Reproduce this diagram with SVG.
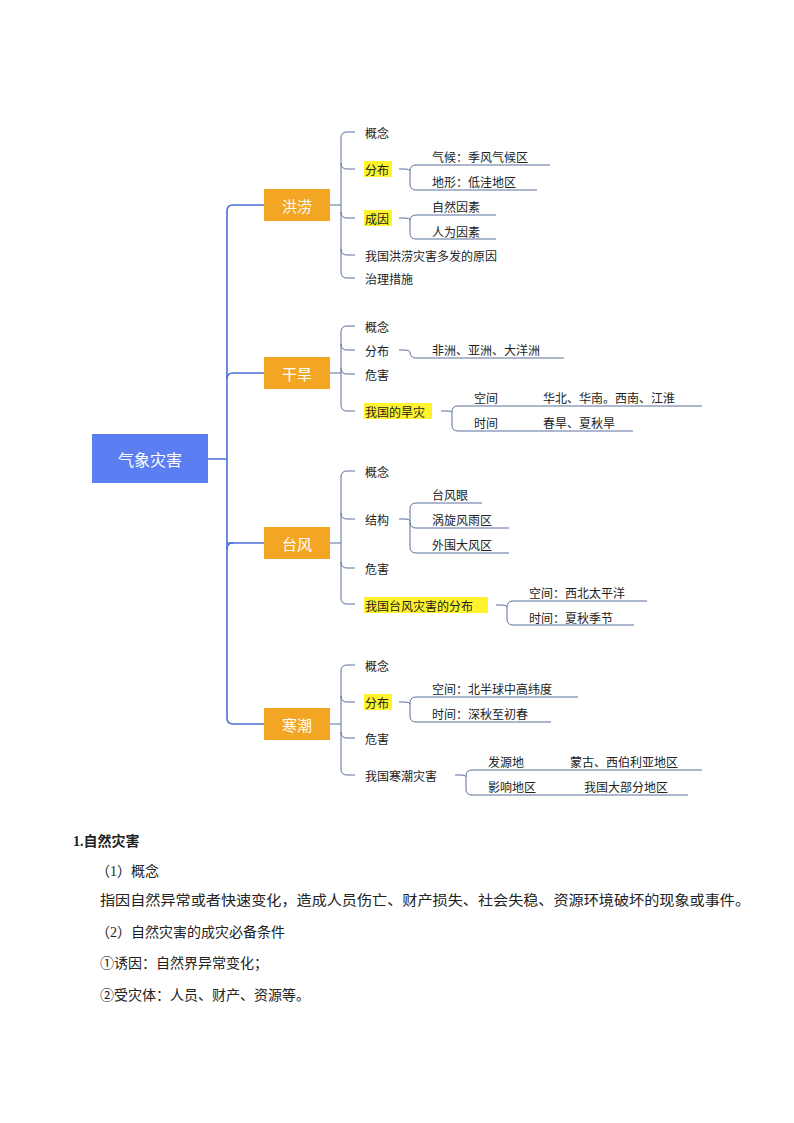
<svg xmlns="http://www.w3.org/2000/svg" width="794" height="1123" viewBox="0 0 794 1123">
<style>
text{font-family:"Noto Sans CJK SC","Noto Sans",sans-serif;fill:#222}
.t{font-size:12px;dominant-baseline:central}
.b{font-size:15px;fill:#fff;text-anchor:middle;dominant-baseline:central}
.c{fill:none;stroke:#4A6FD8;stroke-width:1.6}
.s{fill:none;stroke:#5A6E9A;stroke-width:1}
.hl{fill:#FFF32E}
.box{fill:#F2A623}
.p{font-size:14px;font-family:"Liberation Serif","Noto Sans CJK SC",serif}
</style>
<rect width="794" height="1123" fill="#fff"/>
<g id="connectors">
<path class="c" d="M208,459 H227 M264,205 H233 Q227,205 227,211 V718 Q227,724 233,724 H264 M227,373 Q227,379 227,379 M233,373 H264 M227,543 H264"/>
<path class="c" d="M233,373 Q227,373 227,379 M233,543 Q227,543 227,549"/>
<path class="s" d="M330,205 H341 M355,132 H347 Q341,132 341,138 V272 Q341,278 347,278 H355 M341,163 Q341,169 347,169 H355 M341,212 Q341,218 347,218 H355 M341,249 Q341,255 347,255 H355"/>
<path class="s" d="M399,169 H405 Q410,169 410,171 M550,165 H416 Q410,165 410,171 V184 Q410,190 416,190 H537"/>
<path class="s" d="M399,218 H405 Q410,218 410,220 M496,215 H416 Q410,215 410,221 V233 Q410,239 416,239 H496"/>
<path class="s" d="M330,373 H341 M355,326 H347 Q341,326 341,332 V405 Q341,411 347,411 H355 M341,344 Q341,350 347,350 H355 M341,368 Q341,374 347,374 H355"/>
<path class="s" d="M399,350 H405 Q410,350 410,352 V352 Q410,358 416,358 H564"/>
<path class="s" d="M441,411 H447 Q452,411 452,412 M702,406 H458 Q452,406 452,412 V425 Q452,431 458,431 H633"/>
<path class="s" d="M330,543 H341 M355,471 H347 Q341,471 341,477 V598 Q341,604 347,604 H355 M341,513 Q341,519 347,519 H355 M341,562 Q341,568 347,568 H355"/>
<path class="s" d="M399,519 H405 Q410,519 410,521 M482,503 H416 Q410,503 410,509 V547 Q410,553 416,553 H509 M410,522 Q410,528 416,528 H509"/>
<path class="s" d="M496,605 H502 Q507,605 507,607 M647,601 H513 Q507,601 507,607 V619 Q507,625 513,625 H634"/>
<path class="s" d="M330,724 H341 M355,665 H347 Q341,665 341,671 V769 Q341,775 347,775 H355 M341,696 Q341,702 347,702 H355 M341,732 Q341,738 347,738 H355"/>
<path class="s" d="M399,702 H405 Q410,702 410,704 M578,697 H416 Q410,697 410,703 V716 Q410,722 416,722 H551"/>
<path class="s" d="M455,775 H461 Q466,775 466,777 M702,770 H472 Q466,770 466,776 V789 Q466,795 472,795 H688"/>
</g>
<g id="root"><rect x="92" y="434" width="116" height="49" fill="#5B7FF2"/><text class="b" x="150" y="459" style="font-size:16px">气象灾害</text></g>
<g id="n-flood"><rect class="box" x="264" y="189" width="66" height="32"/><text class="b" x="297" y="205">洪涝</text></g>
<g id="n-drought"><rect class="box" x="264" y="357" width="66" height="32"/><text class="b" x="297" y="373">干旱</text></g>
<g id="n-typhoon"><rect class="box" x="264" y="527" width="66" height="32"/><text class="b" x="297" y="543">台风</text></g>
<g id="n-cold"><rect class="box" x="264" y="708" width="66" height="32"/><text class="b" x="297" y="724">寒潮</text></g>
<g id="flood-items">
<text class="t" x="365" y="132">概念</text>
<rect class="hl" x="364" y="161" width="28" height="16"/><text class="t" x="365" y="169">分布</text>
<text class="t" x="432" y="156">气候：季风气候区</text>
<text class="t" x="432" y="181">地形：低洼地区</text>
<rect class="hl" x="364" y="210" width="28" height="16"/><text class="t" x="365" y="218">成因</text>
<text class="t" x="432" y="206">自然因素</text>
<text class="t" x="432" y="231">人为因素</text>
<text class="t" x="365" y="255">我国洪涝灾害多发的原因</text>
<text class="t" x="365" y="278">治理措施</text>
</g>
<g id="drought-items">
<text class="t" x="365" y="326">概念</text>
<text class="t" x="365" y="350">分布</text>
<text class="t" x="432" y="349">非洲、亚洲、大洋洲</text>
<text class="t" x="365" y="374">危害</text>
<rect class="hl" x="364" y="403" width="68" height="16"/><text class="t" x="365" y="411">我国的旱灾</text>
<text class="t" x="474" y="397">空间</text><text class="t" x="543" y="397">华北、华南。西南、江淮</text>
<text class="t" x="474" y="422">时间</text><text class="t" x="543" y="422">春旱、夏秋旱</text>
</g>
<g id="typhoon-items">
<text class="t" x="365" y="471">概念</text>
<text class="t" x="365" y="519">结构</text>
<text class="t" x="432" y="494">台风眼</text>
<text class="t" x="432" y="519">涡旋风雨区</text>
<text class="t" x="432" y="544">外围大风区</text>
<text class="t" x="365" y="568">危害</text>
<rect class="hl" x="364" y="597" width="124" height="16"/><text class="t" x="365" y="605">我国台风灾害的分布</text>
<text class="t" x="529" y="592">空间：西北太平洋</text>
<text class="t" x="529" y="617">时间：夏秋季节</text>
</g>
<g id="cold-items">
<text class="t" x="365" y="665">概念</text>
<rect class="hl" x="364" y="694" width="28" height="16"/><text class="t" x="365" y="702">分布</text>
<text class="t" x="432" y="688">空间：北半球中高纬度</text>
<text class="t" x="432" y="713">时间：深秋至初春</text>
<text class="t" x="365" y="738">危害</text>
<text class="t" x="365" y="775">我国寒潮灾害</text>
<text class="t" x="488" y="761">发源地</text><text class="t" x="570" y="761">蒙古、西伯利亚地区</text>
<text class="t" x="488" y="786">影响地区</text><text class="t" x="584" y="786">我国大部分地区</text>
</g>
<g id="body">
<text class="p" x="73" y="846" style="font-weight:bold">1.自然灾害</text>
<text class="p" x="96" y="876">（1）概念</text>
<text class="p" x="100" y="905" textLength="650" lengthAdjust="spacingAndGlyphs">指因自然异常或者快速变化，造成人员伤亡、财产损失、社会失稳、资源环境破坏的现象或事件。</text>
<text class="p" x="96" y="937">（2）自然灾害的成灾必备条件</text>
<text class="p" x="100" y="968">①诱因：自然界异常变化；</text>
<text class="p" x="100" y="1000">②受灾体：人员、财产、资源等。</text>
</g>
</svg>
